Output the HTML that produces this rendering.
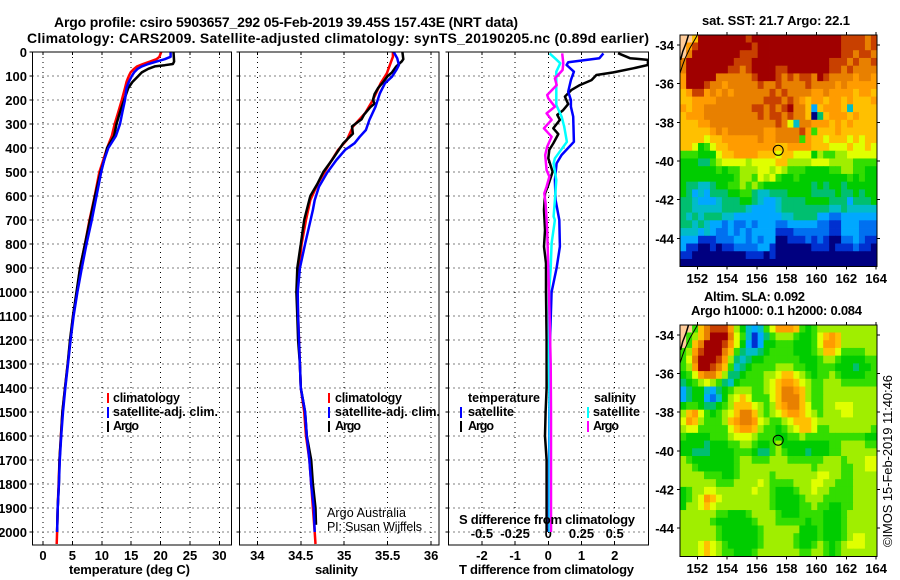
<!DOCTYPE html>
<html>
<head>
<meta charset="utf-8">
<title>Argo profile</title>
<style>
html,body{margin:0;padding:0;background:#fff;}
svg{display:block;}
text{font-family:"Liberation Sans",sans-serif;fill:#000;}
.t{font-weight:bold;font-size:14px;}
.b{font-weight:bold;font-size:13px;}
.l{font-weight:bold;font-size:12.5px;}
.r{font-size:12.5px;}
</style>
</head>
<body>
<svg id="fig" xmlns="http://www.w3.org/2000/svg" width="900" height="580" viewBox="0 0 900 580">
<defs>
<clipPath id="clip-t"><rect x="32" y="52" width="199" height="493"/></clipPath>
<clipPath id="clip-s"><rect x="240" y="52" width="199" height="493"/></clipPath>
<clipPath id="clip-d"><rect x="448" y="52" width="200" height="493"/></clipPath>
<clipPath id="clip-m1"><rect x="680" y="35" width="197" height="232"/></clipPath>
<clipPath id="clip-m2"><rect x="680" y="325" width="197" height="232"/></clipPath>
</defs>
<rect x="0" y="0" width="900" height="580" fill="#fff"/>
<text class="t" x="54" y="27" textLength="464">Argo profile: csiro 5903657_292 05-Feb-2019 39.45S 157.43E (NRT data)</text>
<text class="t" x="27" y="43" textLength="622">Climatology: CARS2009. Satellite-adjusted climatology: synTS_20190205.nc (0.89d earlier)</text>
<g id="layer-heat"></g>
<g id="layer-plot"></g>
<g>
<line x1="108" x2="108" y1="393" y2="403" stroke="#f00" stroke-width="2"/>
<line x1="108" x2="108" y1="407" y2="418" stroke="#00f" stroke-width="2"/>
<line x1="108" x2="108" y1="421" y2="432" stroke="#000" stroke-width="2"/>
<text class="l" x="113" y="402" textLength="67">climatology</text>
<text class="l" x="113" y="416" textLength="105">satellite-adj. clim.</text>
<text class="l" x="113" y="430" textLength="26">Argo</text>
</g>
<g>
<line x1="329" x2="329" y1="393" y2="403" stroke="#f00" stroke-width="2"/>
<line x1="329" x2="329" y1="407" y2="418" stroke="#00f" stroke-width="2"/>
<line x1="329" x2="329" y1="421" y2="432" stroke="#000" stroke-width="2"/>
<text class="l" x="335" y="402" textLength="67">climatology</text>
<text class="l" x="335" y="416" textLength="105">satellite-adj. clim.</text>
<text class="l" x="335" y="430" textLength="26">Argo</text>
<text class="r" x="327" y="517" textLength="79">Argo Australia</text>
<text class="r" x="327" y="531" textLength="95">PI: Susan Wijffels</text>
</g>
<g>
<line x1="461" x2="461" y1="407" y2="418" stroke="#00f" stroke-width="2"/>
<line x1="461" x2="461" y1="421" y2="432" stroke="#000" stroke-width="2"/>
<line x1="588" x2="588" y1="407" y2="418" stroke="#0ff" stroke-width="2"/>
<line x1="588" x2="588" y1="421" y2="432" stroke="#f0f" stroke-width="2"/>
<text class="l" x="468" y="402" textLength="72">temperature</text>
<text class="l" x="468" y="416" textLength="46">satellite</text>
<text class="l" x="468" y="430" textLength="26">Argo</text>
<text class="l" x="594" y="402" textLength="42">salinity</text>
<text class="l" x="593" y="416" textLength="47">satellite</text>
<text class="l" x="593" y="430" textLength="26">Argo</text>
<text class="b" x="459" y="524" textLength="176">S difference from climatology</text>
</g>
<text class="b" x="69" y="574" textLength="121">temperature (deg C)</text>
<text class="b" x="315" y="574" textLength="43">salinity</text>
<text class="b" x="459" y="574" textLength="175">T difference from climatology</text>
<text class="b" x="702" y="25" textLength="148">sat. SST: 21.7 Argo: 22.1</text>
<text class="b" x="704" y="301" textLength="101">Altim. SLA: 0.092</text>
<text class="b" x="691" y="315" textLength="171">Argo h1000: 0.1 h2000: 0.084</text>
<text x="892" y="547" font-size="13" textLength="172" transform="rotate(-90 892 547)">©IMOS 15-Feb-2019 11:40:46</text>
</svg>
<script>
// ---- profile axes tick labels ----
const depthTicks = [0,100,200,300,400,500,600,700,800,900,1000,1100,1200,1300,1400,1500,1600,1700,1800,1900,2000];
const tempTicks = [0,5,10,15,20,25,30];
const salTicks = [34,34.5,35,35.5,36];
const tDiffTicks = [-2,-1,0,1,2];
const sDiffTicks = [-0.5,-0.25,0,0.25,0.5];
const lonTicks = [152,154,156,158,160,162,164];
const latTicks = [-34,-36,-38,-40,-42,-44];
const floatLon = 157.43;
const floatLat = -39.45;

// ---- temperature profiles (deg C) ----
const tempClimDepth = [0,20,30,40,50,60,70,85,100,125,150,200,250,300,350,400,450,500,600,700,800,900,1000,1100,1200,1300,1400,1500,1600,1700,1800,1900,2000,2050];
const tempClim = [20.1,19.8,19.3,18.2,17.0,16.0,15.5,14.9,14.6,14.2,13.95,13.4,12.8,12.2,11.7,10.9,10.25,9.6,8.8,7.9,7.15,6.3,5.8,5.1,4.65,4.2,3.75,3.3,3.05,2.8,2.65,2.5,2.4,2.33];
const tempSatDepth = [0,20,30,40,50,60,70,85,100,125,150,200,250,300,350,400,450,500,600,700,800,900,1000,1100,1200,1300,1400,1500,1600,1700,1800,1900,2000];
const tempSat = [21.7,21.7,20.7,19.3,17.9,16.8,16.1,15.5,15.1,14.6,14.2,13.95,13.5,13.1,12.4,11.1,10.4,9.9,9.1,8.3,7.4,6.6,5.85,5.2,4.7,4.25,3.8,3.4,3.1,2.85,2.7,2.5,2.4];
const tempArgoDepth = [0,40,50,55,60,70,85,100,125,150,200,250,300,350,400,450,500,600,700,800,900,1000,1100,1200,1300,1400,1500,1600,1700,1800,1900,2000];
const tempArgo = [22.2,22.3,22.1,20.7,19.0,17.9,16.8,16.2,15.2,14.5,13.8,13.1,12.5,12.1,10.9,10.4,9.8,8.85,8.0,7.15,6.3,5.7,5.1,4.6,4.2,3.75,3.3,3.06,2.8,2.7,2.5,2.4];

// ---- salinity profiles (psu) ----
const salClimDepth = [0,20,30,89,130,200,255,311,367,408,478,546,617,700,800,900,1000,1100,1200,1300,1400,1500,1600,1700,1800,1900,2000,2050];
const salClim = [35.56,35.56,35.55,35.49,35.42,35.33,35.24,35.1,35.03,34.93,34.81,34.7,34.61,34.56,34.51,34.48,34.46,34.47,34.48,34.49,34.5,34.54,34.56,34.6,34.62,34.64,34.66,34.67];
const salSatDepth = [0,26,54,75,103,130,173,228,283,325,353,380,408,450,505,561,617,658,800,900,1000,1100,1200,1300,1400,1500,1600,1700,1800,1900,2000];
const salSat = [35.57,35.61,35.63,35.6,35.55,35.47,35.41,35.36,35.29,35.25,35.18,35.12,35.01,34.91,34.8,34.71,34.66,34.64,34.55,34.49,34.465,34.47,34.48,34.49,34.5,34.55,34.57,34.6,34.62,34.65,34.66];
const salArgoDepth = [0,30,40,60,85,100,125,150,175,200,215,230,260,280,310,340,380,450,500,550,600,700,800,900,1000,1100,1200,1300,1400,1500,1600,1700,1800,1900,1970];
const salArgo = [35.67,35.68,35.66,35.6,35.55,35.5,35.45,35.39,35.35,35.33,35.35,35.3,35.23,35.2,35.09,35.1,34.99,34.86,34.76,34.69,34.61,34.54,34.5,34.46,34.45,34.46,34.47,34.49,34.5,34.55,34.57,34.62,34.64,34.67,34.675];

// ---- differences from climatology ----
const diffTArgoDepth = [5,26,33,54,68,85,96,117,138,158,186,217,242,262,283,318,342,381,408,443,499,554,589,658,742,811,881,1000,1200,1400,1500,1600,1700,2000];
const diffTArgo = [2.1,2.46,3.0,3.0,2.56,1.96,1.45,1.3,0.95,0.7,0.5,0.6,0.45,0.27,0.35,0.15,0.3,0.15,0.03,0,0.13,0,-0.1,-0.13,-0.1,-0.13,-0.07,-0.07,-0.05,-0.05,-0.08,-0.1,-0.05,-0.05];
const diffTSatDepth = [6,26,43,54,82,117,165,200,228,269,374,429,464,533,617,700,811,900,1000,1200,1500,2000];
const diffTSat = [1.66,1.54,0.6,0.55,0.77,0.68,0.6,0.68,0.68,0.75,0.77,0.4,0.25,0.2,0.22,0.33,0.35,0.25,0.1,0.05,0.03,0.02];
const diffSSatDepth = [6,26,47,82,172,221,269,311,374,443,464,533,617,686,700,797,900,1005,1300,1500,2000];
const diffSSat = [0.01,0.05,0.09,0.06,0.06,0.06,0.1,0.12,0.14,0.05,0.04,0.06,0.05,0.04,0.05,0.025,0.018,0.005,0.005,0.01,0.01];
const diffSArgoDepth = [6,47,75,110,138,179,193,228,256,283,318,353,394,429,492,519,561,589,631,742,900,1005,1300,1500,2000];
const diffSArgo = [0.105,0.113,0.108,0.05,0.063,-0.008,0,0.05,-0.013,0.025,-0.033,0.025,-0.008,-0.023,-0.013,0.008,-0.013,-0.03,-0.02,-0.008,0,0.005,0.018,0.02,0.02];

// ---- map cell levels, one character per 0.4 deg cell; x = land ----
const sstRows = [
'xxaeeeeeeee deee eeeee eee eeee ddddcd',
'xbdeeeeeeee edee eeeee eee eeee ddddcd',
'xceeeeeeeed ddee eeeee eee eeee ddcddc',
'ceeeeeeeedd deee eeeee eee eedd dcdccd',
'ceeeeeeeddc deee eddee eee eedd cdcccc',
'beeeeeccccc cdee edcdc ddc edcc ccbccb',
'beeedccbccc ccdc cdccc cdc cccb cbbbbb',
'abddbcbcbcc cccc dcdcc ccb bcbb bbabba',
'aabbbbccccc cccd ddcdc bab babb abaaab',
'babbccccccc cddc dcdec ca3 abbb a4aaaa',
'abbbccccccc ccdc ddcdc ca0 5abb babaaa',
'aaabbcccccc cccc cdc94 ccb bbab abaaaa',
'aaaaabcbccc cccb bcccc db7 aaab aaaaaa',
'aaaa9aabbbb bbcb bcccc 7ba a9aa a9a9aa',
'aa9679aabbb bbbb baabb bba aa99 9a99a9',
'7776669aabb bbaa a9aa9 996 8778 899999',
'66655789999 8999 9aa88 889 9988 887777',
'66666676778 8899 89877 766 6677 887766',
'66666666678 8798 97667 666 6666 676766',
'65544566778 7876 66666 665 6566 566666',
'65343555667 7544 55566 665 5556 556566',
'55433345556 6543 34555 566 6655 535556',
'55444445555 4333 34555 555 5544 544444',
'54545554433 3333 33445 555 3322 333333',
'55454332322 3233 32233 333 2211 333222',
'44434322323 2333 31112 222 2211 333222',
'33311122233 2323 30011 121 2100 223211',
'31100101122 2233 10000 001 1101 112110',
'11000000000 1110 10000 000 0000 000000',
'00000000000 0000 00000 000 0000 000000'
];
const slaRows = [
'xx7acdddb86 4347 9bbba 767 8888 888888',
'x78aceeec97 4135 78887 667 9aba 888888',
'x7aceeedb96 3136 67776 667 9bba 888888',
'78bdeeeca75 4456 77776 667 8aa9 777788',
'79ceeedb854 5667 77777 666 7887 666677',
'78beedca745 6777 78887 766 7776 665667',
'679bcca8556 7778 89aa9 876 7787 666677',
'56789875467 7778 9abba 987 7888 777777',
'35664356788 8778 9accb a87 7888 888888',
'3566324689a 9777 9accc a87 7888 888888',
'677655678aa a987 8abcc a97 7889 998888',
'8ab976789ac ca87 89abb a98 7888 998888',
'9ba87778abc cb98 7789a aa9 8888 888888',
'899777779ab ba87 76789 aa9 7788 888887',
'76666777899 9877 76677 877 7777 777766',
'66665666778 8766 78666 666 6677 888877',
'66555666677 7655 78766 656 6677 888888',
'87666666678 8777 88877 777 7888 788899',
'88766666678 8888 88888 887 8888 778899',
'88887776678 8888 78888 888 9988 778888',
'88888877788 8898 77778 889 9887 778888',
'67889988888 8988 76667 889 8877 778888',
'6789ba98888 8888 76666 788 8777 778888',
'6889a988888 8888 76666 778 7766 778888',
'88888877666 7888 87666 777 7666 788888',
'88888766666 6788 87777 767 7666 788888',
'88888876666 6678 88888 666 7666 788888',
'88888876666 6678 88887 666 7666 789988',
'8889a987666 6678 88887 667 8767 899988',
'8889a987766 6788 88888 778 8767 888888'
];
const coastLon = [152.0,151.5,151.18,151.02,150.84];
const coastLat = [-33.5,-34.17,-34.69,-35.03,-35.46];
const coastInnerLon = [151.4,151.24,151.02,150.88];
const coastInnerLat = [-33.5,-33.91,-34.34,-34.77];

// ---- scales ----
const levelColor = {'0':'#000080','1':'#0030d0','2':'#0070f0','3':'#00a8ff','4':'#00bcc8','5':'#00bf70','6':'#00cc00','7':'#33dd00','8':'#a0ee00','9':'#e0ff00','a':'#ffc000','b':'#ff9c00','c':'#e88000','d':'#c84000','e':'#a00000','x':'#ffcc99'};
const NS = 'http://www.w3.org/2000/svg';
const plot = document.getElementById('layer-plot');
const heat = document.getElementById('layer-heat');
const yDepth = d => 52 + 0.24 * d;
const xTemp = v => 43 + 5.88 * v;
const xSal = v => 257.3 + 86.9 * (v - 34);
const xDT = v => 548.3 + 33.2 * v;
const xDS = v => 548.3 + 132.8 * v;
const xLon = v => 697.3 + 14.9 * (v - 152);
const yLat1 = v => 45 - 19.33 * (v + 34);
const yLat2 = v => 335 - 19.3 * (v + 34);

function svgEl(tag, attrs, parent) {
  const el = document.createElementNS(NS, tag);
  for (const k in attrs) el.setAttribute(k, attrs[k]);
  parent.appendChild(el);
  return el;
}
function label(cls, x, y, anchor, str, parent) {
  const el = svgEl('text', {class: cls, x: x, y: y, 'text-anchor': anchor}, parent);
  el.textContent = str;
  
  return el;
}
function gridLine(x1, y1, x2, y2) {
  const el = svgEl('line', {x1: x1, y1: y1, x2: x2, y2: y2, stroke: '#000', 'stroke-width': 1, 'stroke-dasharray': '1.2 3.8', 'shape-rendering': 'crispEdges'}, plot);
  
  
}
function tickLine(x1, y1, x2, y2) {
  const el = svgEl('line', {x1: x1, y1: y1, x2: x2, y2: y2, stroke: '#000', 'stroke-width': 1, 'shape-rendering': 'crispEdges'}, plot);
  
  
}
function frame(x, y, w, h) {
  const el = svgEl('rect', {x: x, y: y, width: w, height: h, fill: 'none', stroke: '#000', 'stroke-width': 1, 'shape-rendering': 'crispEdges'}, plot);
  
  
}
function series(depths, values, xf, color, clip) {
  const pts = depths.map((d, i) => xf(values[i]).toFixed(1) + ',' + yDepth(d).toFixed(1)).join(' ');
  const el = svgEl('polyline', {points: pts, fill: 'none', stroke: color, 'stroke-width': 2.5, 'stroke-linejoin': 'round', 'clip-path': 'url(#' + clip + ')'}, plot);
  
  
}

// ---- profile panels ----
const panels = [
  {x: 32.5, w: 199, xf: xTemp, ticks: tempTicks},
  {x: 239.5, w: 199.5, xf: xSal, ticks: salTicks},
  {x: 448.5, w: 200, xf: xDT, ticks: tDiffTicks}
];
panels.forEach(function (p, idx) {
  depthTicks.forEach(function (d) {
    if (d > 0) gridLine(p.x, yDepth(d), p.x + p.w, yDepth(d));
    tickLine(p.x - 3, yDepth(d), p.x, yDepth(d));
  });
  p.ticks.forEach(function (t) {
    gridLine(p.xf(t), 52, p.xf(t), 545);
    tickLine(p.xf(t), 541, p.xf(t), 545);
    tickLine(p.xf(t), 52, p.xf(t), 55);
    const lab = label('b', p.xf(t), 560, 'middle', String(t), plot);
    
  });
});
depthTicks.forEach(function (d) {
  const lab = label('b', 27, yDepth(d) + 5, 'end', String(d), plot);
  
});
sDiffTicks.forEach(function (t) {
  const lab = label('b', xDS(t), 538, 'middle', String(t), plot);
  
});

series(tempClimDepth, tempClim, xTemp, '#f00', 'clip-t');
series(tempArgoDepth, tempArgo, xTemp, '#000', 'clip-t');
series(tempSatDepth, tempSat, xTemp, '#00f', 'clip-t');
series(salClimDepth, salClim, xSal, '#f00', 'clip-s');
series(salArgoDepth, salArgo, xSal, '#000', 'clip-s');
series(salSatDepth, salSat, xSal, '#00f', 'clip-s');
series(diffTArgoDepth, diffTArgo, xDT, '#000', 'clip-d');
series(diffTSatDepth, diffTSat, xDT, '#00f', 'clip-d');
series(diffSSatDepth, diffSSat, xDS, '#0ff', 'clip-d');
series(diffSArgoDepth, diffSArgo, xDS, '#f0f', 'clip-d');
panels.forEach(function (p) { frame(p.x, 52, p.w, 493); });

// ---- maps ----
function drawMap(rows, yLat, clip, labelY) {
  const lonStart = 150.85, step = 0.4, latStart = -33.47;
  rows.forEach(function (row, r) {
    const cells = row.replace(/ /g, '');
    for (let c = 0; c < cells.length; c++) {
      const x0 = xLon(lonStart + c * step), x1 = xLon(lonStart + (c + 1) * step);
      const y0 = yLat(latStart - r * step), y1 = yLat(latStart - (r + 1) * step);
      const cell = svgEl('rect', {x: x0.toFixed(2), y: y0.toFixed(2), width: (x1 - x0 + 0.4).toFixed(2), height: (y1 - y0 + 0.4).toFixed(2), fill: levelColor[cells[c]], 'clip-path': 'url(#' + clip + ')'}, heat);
      
      
    }
  });
  const top = yLat(-33.47), bottom = yLat(-45.47), left = 680, right = 877;
  const coast = svgEl('polyline', {points: coastLon.map((v, i) => xLon(v).toFixed(1) + ',' + yLat(coastLat[i]).toFixed(1)).join(' '), fill: 'none', stroke: '#000', 'stroke-width': 1, 'clip-path': 'url(#' + clip + ')'}, plot);
  
  
  const inner = svgEl('polyline', {points: coastInnerLon.map((v, i) => xLon(v).toFixed(1) + ',' + yLat(coastInnerLat[i]).toFixed(1)).join(' '), fill: 'none', stroke: '#000', 'stroke-width': 1.5, 'clip-path': 'url(#' + clip + ')'}, plot);
  
  
  frame(left, top, right - left, bottom - top);
  lonTicks.forEach(function (v) {
    tickLine(xLon(v), top - 3, xLon(v), top);
    tickLine(xLon(v), bottom, xLon(v), bottom + 3);
    const lab = label('b', xLon(v), labelY, 'middle', String(v), plot);
    
  });
  latTicks.forEach(function (v) {
    tickLine(left - 3, yLat(v), left, yLat(v));
    tickLine(right, yLat(v), right + 3, yLat(v));
    const lab = label('b', 674, yLat(v) + 5, 'end', String(v), plot);
    
  });
  const marker = svgEl('circle', {cx: xLon(floatLon).toFixed(1), cy: yLat(floatLat).toFixed(1), r: 5, fill: 'none', stroke: '#000', 'stroke-width': 1}, plot);
  
  
}
drawMap(sstRows, yLat1, 'clip-m1', 283);
drawMap(slaRows, yLat2, 'clip-m2', 573);
</script>
</body>
</html>
